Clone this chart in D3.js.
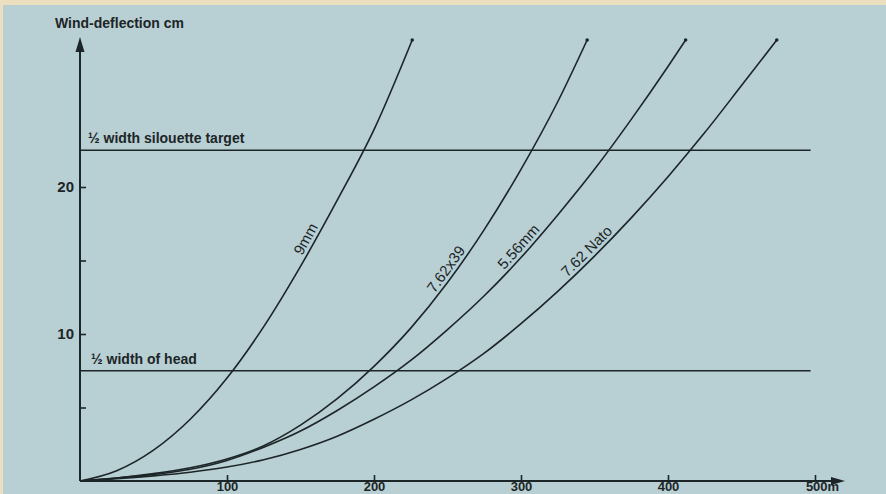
<!DOCTYPE html>
<html>
<head>
<meta charset="utf-8">
<script src="https://cdn.jsdelivr.net/npm/d3@7"></script>
<style>
  html, body { margin: 0; padding: 0; background: #ecdfc0; }
  #chart { width: 886px; height: 494px; }
  text { font-family: "Liberation Sans", Arial, sans-serif; fill: #1c2527; }
</style>
</head>
<body>
<div id="chart"></div>
<script>
// wind deflection (cm) against range (m)
const calibres = ["9mm", "7.62x39", "5.56mm", "7.62 Nato"];
const deflection9mm = [[0, 0], [25, 0.7], [50, 2.1], [75, 4.2], [100, 7.0], [125, 10.5], [150, 14.6], [175, 19.1], [200, 23.9], [226, 30]];
const deflection762x39 = [[0, 0], [25, 0.2], [50, 0.5], [75, 0.9], [100, 1.5], [125, 2.4], [150, 3.8], [175, 5.6], [200, 7.8], [225, 10.4], [250, 13.5], [275, 17.1], [300, 21.2], [325, 25.8], [345, 30]];
const deflection556 = [[0, 0], [25, 0.2], [50, 0.45], [75, 0.8], [100, 1.4], [125, 2.3], [150, 3.4], [175, 4.8], [200, 6.4], [225, 8.2], [250, 10.3], [275, 12.6], [300, 15.2], [325, 18.1], [350, 21.2], [375, 24.6], [400, 28.2], [412, 30]];
const deflectionNato = [[0, 0], [25, 0.15], [50, 0.35], [75, 0.6], [100, 0.95], [125, 1.45], [150, 2.15], [175, 3.05], [200, 4.2], [225, 5.5], [250, 7.0], [275, 8.7], [300, 10.7], [325, 12.9], [350, 15.3], [375, 17.9], [400, 20.7], [425, 23.7], [450, 26.9], [474, 30]];
const allDeflections = [deflection9mm, deflection762x39, deflection556, deflectionNato];

const yTicks = [5, 10, 15, 20];
const yTickLabels = ["", "10", "", "20"];
const xTicks = [100, 200, 300, 400, 500];
const xTickLabels = ["100", "200", "300", "400", "500m"];

const refValues = [22.5, 7.5];
const refLabels = ["½ width silouette target", "½ width of head"];

// layout
const ink = "#1c2527";
const labelAt = [159, 254, 303, 349]; // range (m) where each calibre label sits
const refLineEnd = 497;

const container = d3.select("#chart");
const width = 886;
const height = 494;

const svg = container
  .append("svg")
  .attr("width", width)
  .attr("height", height);

svg
  .append("rect")
  .attr("x", 3)
  .attr("y", 5)
  .attr("width", width - 3)
  .attr("height", height - 5)
  .attr("fill", "#b8cfd3");

const margin = { left: 80, right: 71, top: 40, bottom: 13 };

const xScale = d3.scaleLinear().domain([0, 500]).range([margin.left, width - margin.right]);
const yScale = d3.scaleLinear().domain([0, 30]).range([height - margin.bottom, margin.top]);

const x0 = xScale(0);
const y0 = yScale(0);

// axis lines with arrow heads
svg.append("line")
  .attr("x1", x0).attr("x2", x0)
  .attr("y1", y0).attr("y2", 48)
  .attr("stroke", ink).attr("stroke-width", 2);
svg.append("path")
  .attr("d", `M${x0 - 4.5},52 L${x0},37 L${x0 + 4.5},52 Z`)
  .attr("fill", ink);

svg.append("line")
  .attr("x1", x0).attr("x2", 836)
  .attr("y1", y0).attr("y2", y0)
  .attr("stroke", ink).attr("stroke-width", 2);
svg.append("path")
  .attr("d", `M831,${y0 - 4} L845,${y0} L831,${y0 + 4} Z`)
  .attr("fill", ink);

const yAxis = svg
  .append("g")
  .attr("transform", `translate(${x0}, 0)`)
  .call(
    d3.axisLeft(yScale)
      .tickValues(yTicks)
      .tickSizeInner(-6)
      .tickSizeOuter(0)
      .tickPadding(6)
      .tickFormat((d, i) => yTickLabels[i])
  );
yAxis.select(".domain").remove();
yAxis.selectAll("line").attr("stroke", ink).attr("stroke-width", 1.6);
yAxis.selectAll("text")
  .attr("font-family", "Liberation Sans, Arial, sans-serif")
  .attr("font-size", 15)
  .attr("font-weight", "bold")
  .attr("fill", ink);

const xAxis = svg
  .append("g")
  .attr("transform", `translate(0, ${y0})`)
  .call(
    d3.axisBottom(xScale)
      .tickValues(xTicks)
      .tickSizeInner(-6)
      .tickSizeOuter(0)
      .tickPadding(1)
      .tickFormat((d, i) => xTickLabels[i])
  );
xAxis.select(".domain").remove();
xAxis.selectAll("line").attr("stroke", ink).attr("stroke-width", 1.6);
xAxis.selectAll("text")
  .attr("font-family", "Liberation Sans, Arial, sans-serif")
  .attr("font-size", 13)
  .attr("font-weight", "bold")
  .attr("fill", ink)
  .attr("dx", (d) => (d === 500 ? 7 : 0));

svg.append("text")
  .attr("x", 55)
  .attr("y", 28)
  .attr("font-size", 14)
  .attr("font-weight", "bold")
  .text("Wind-deflection cm");

// reference lines
refValues.forEach((v, i) => {
  svg.append("line")
    .attr("x1", x0).attr("x2", xScale(refLineEnd))
    .attr("y1", yScale(v)).attr("y2", yScale(v))
    .attr("stroke", ink).attr("stroke-width", 1.6);
  svg.append("text")
    .attr("x", i === 0 ? 88 : 91)
    .attr("y", yScale(v) - 7)
    .attr("font-size", 14)
    .attr("font-weight", "bold")
    .text(refLabels[i]);
});

// curves
const line = d3.line()
  .x((d) => xScale(d[0]))
  .y((d) => yScale(d[1]))
  .curve(d3.curveMonotoneX);

allDeflections.forEach((pts, i) => {
  const path = svg.append("path")
    .attr("d", line(pts))
    .attr("fill", "none")
    .attr("stroke", ink)
    .attr("stroke-width", 1.6);

  const last = pts[pts.length - 1];
  svg.append("circle")
    .attr("cx", xScale(last[0]))
    .attr("cy", yScale(last[1]))
    .attr("r", 1.8)
    .attr("fill", ink);

  // put the label along the curve
  const node = path.node();
  const total = node.getTotalLength();
  const tx = xScale(labelAt[i]);
  let best = 0;
  let bestDist = Infinity;
  for (let l = 0; l <= total; l += 0.5) {
    const p = node.getPointAtLength(l);
    const dd = Math.abs(p.x - tx);
    if (dd < bestDist) { bestDist = dd; best = l; }
  }
  const p = node.getPointAtLength(best);
  const a = node.getPointAtLength(Math.max(0, best - 6));
  const b = node.getPointAtLength(Math.min(total, best + 6));
  const angle = (Math.atan2(b.y - a.y, b.x - a.x) * 180) / Math.PI;

  svg.append("text")
    .attr("transform", `translate(${p.x}, ${p.y}) rotate(${angle})`)
    .attr("text-anchor", "middle")
    .attr("dy", -4)
    .attr("font-size", 15)
    .text(calibres[i]);
});
</script>
</body>
</html>
